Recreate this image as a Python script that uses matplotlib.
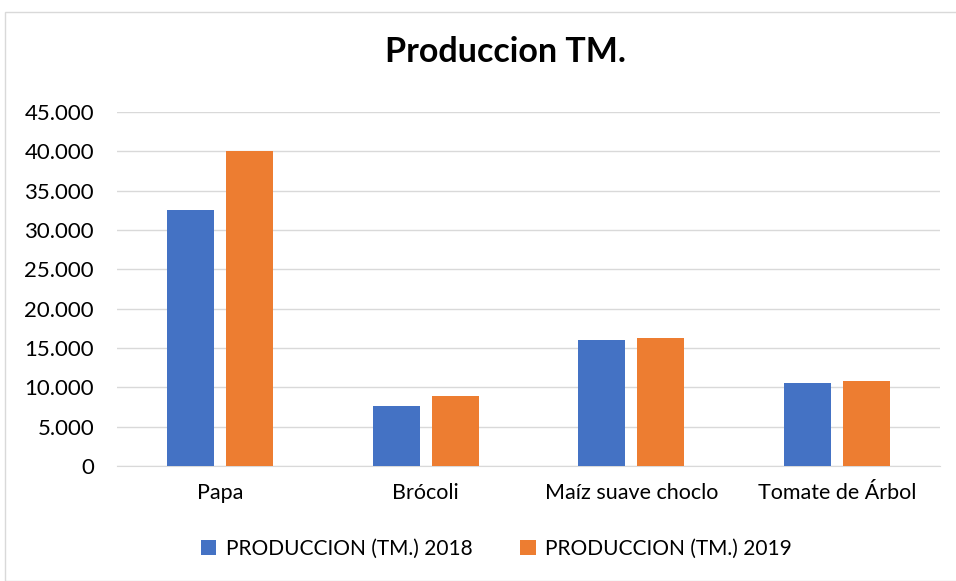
import numpy as np
import matplotlib.pyplot as plt
from matplotlib.ticker import FuncFormatter, MultipleLocator
from matplotlib.patches import Rectangle

plt.rcParams['font.family'] = ['Lato', 'DejaVu Sans']

# Data
categories = ['Papa', 'Brócoli', 'Maíz suave choclo', 'Tomate de Árbol']
prod_2018 = [32500, 7650, 16000, 10600]
prod_2019 = [40000, 8950, 16250, 10750]
series_labels = ['PRODUCCION (TM.) 2018', 'PRODUCCION (TM.) 2019']
colors = ['#4472C4', '#ED7D31']

fig = plt.figure(figsize=(9.56, 5.81), dpi=100)
# chart frame
fig.patches.append(Rectangle((5 / 956, 0), 1, 1 - 12 / 581, transform=fig.transFigure,
                             fill=False, edgecolor='#D9D9D9', linewidth=1))

ax = fig.add_axes([117 / 956, 1 - 466 / 581, (940 - 117) / 956, (466 - 112) / 581])

x = np.arange(len(categories))
w = 0.228
off = 0.143
ax.bar(x - off, prod_2018, width=w, color=colors[0], label=series_labels[0], zorder=3)
ax.bar(x + off, prod_2019, width=w, color=colors[1], label=series_labels[1], zorder=3)

ax.set_xlim(-0.5, len(categories) - 0.5)
ax.set_ylim(0, 45000)
ax.yaxis.set_major_locator(MultipleLocator(5000))
ax.yaxis.set_major_formatter(FuncFormatter(lambda v, p: f'{int(v):,}'.replace(',', '.')))
ax.grid(axis='y', color='#D9D9D9', linewidth=1, zorder=0)
ax.set_xticks(x)
ax.set_xticklabels(categories)
ax.tick_params(axis='x', length=0, labelsize=15.5, colors='#000000', pad=12)
ax.tick_params(axis='y', length=0, labelsize=16, colors='#000000', pad=16.5)
for s in ['top', 'right', 'left']:
    ax.spines[s].set_visible(False)
ax.spines['bottom'].set_color('#D9D9D9')

fig.text(0.529, 1 - 52 / 581, 'Produccion TM.', ha='center', va='center',
         fontsize=24.5, fontweight='bold')

fig.legend(loc='center', bbox_to_anchor=(0.519, 1 - 549 / 581), ncol=2, frameon=False,
           fontsize=15, handlelength=0.75, handleheight=0.75, columnspacing=2.3,
           handletextpad=0.45)

fig.savefig('out.png', dpi=100)
